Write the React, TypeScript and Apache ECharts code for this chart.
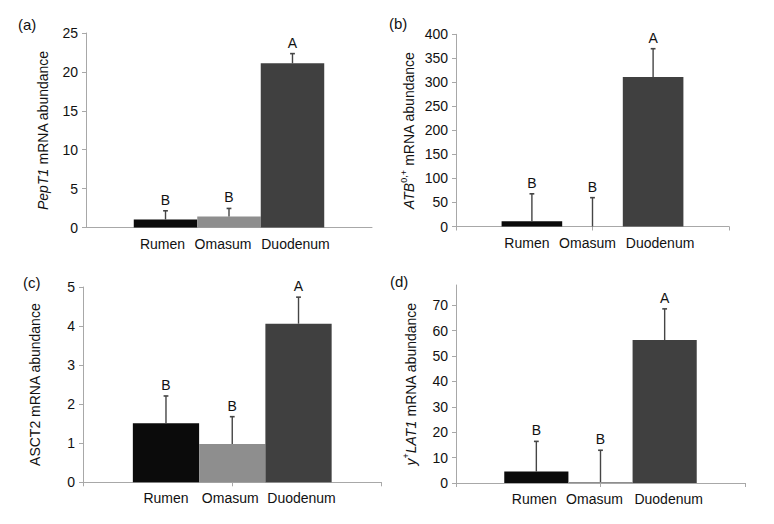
import React, { useEffect, useRef } from "react";
import * as echarts from "echarts";

const categories = ["Rumen", "Omasum", "Duodenum"];
const panelTags = ["(a)", "(b)", "(c)", "(d)"];

// (a) PepT1
const pept1Mean = [1.02, 1.4, 21.1];
const pept1Upper = [2.15, 2.45, 22.35];
const pept1Letters = ["B", "B", "A"];
// (b) ATB0,+
const atbMean = [11, 0, 311];
const atbUpper = [68, 60, 370];
const atbLetters = ["B", "B", "A"];
// (c) ASCT2
const asct2Mean = [1.51, 0.98, 4.06];
const asct2Upper = [2.21, 1.68, 4.74];
const asct2Letters = ["B", "B", "A"];
// (d) y+LAT1
const ylat1Mean = [4.5, 0.4, 56.3];
const ylat1Upper = [16.4, 12.9, 68.6];
const ylat1Letters = ["B", "B", "A"];

const pept1Ticks = [0, 5, 10, 15, 20, 25];
const atbTicks = [0, 50, 100, 150, 200, 250, 300, 350, 400];
const asct2Ticks = [0, 1, 2, 3, 4, 5];
const ylat1Ticks = [0, 10, 20, 30, 40, 50, 60, 70];

const FONT = "'Liberation Sans', Arial, Helvetica, sans-serif";
const BAR_COLORS = ["#0b0b0b", "#8e8e8e", "#404040"];
const AXIS_COLOR = "#a8a8a8";
const TEXT_COLOR = "#111111";
const GAP = 0.334;

const panels = [
  {
    mean: pept1Mean, upper: pept1Upper, letters: pept1Letters, ticks: pept1Ticks,
    max: 25, interval: 5,
    name: "{i|PepT1} mRNA abundance",
    grid: { left: 86, top: 33, width: 286, height: 194.5 },
    nameGap: 33, tag: { x: 18, y: 24 }, midTicks: false,
    labelOffsets: [-3, -6, 3],
  },
  {
    mean: atbMean, upper: atbUpper, letters: atbLetters, ticks: atbTicks,
    max: 400, interval: 50,
    name: "{i|ATB}{s|0,+} mRNA abundance",
    grid: { left: 456, top: 34.3, width: 273, height: 192.2 },
    nameGap: 37, tag: { x: 389, y: 23 }, midTicks: true,
    labelOffsets: [-5, -5, 7],
  },
  {
    mean: asct2Mean, upper: asct2Upper, letters: asct2Letters, ticks: asct2Ticks,
    max: 5, interval: 1,
    name: "ASCT2 mRNA abundance",
    grid: { left: 83, top: 287, width: 298.5, height: 195.3 },
    nameGap: 38, tag: { x: 23, y: 282 }, midTicks: true,
    labelOffsets: [0, -2, 3],
  },
  {
    mean: ylat1Mean, upper: ylat1Upper, letters: ylat1Letters, ticks: ylat1Ticks,
    max: 78, interval: 10,
    name: "{i|y}{s|+}{i|LAT1} mRNA abundance",
    grid: { left: 456, top: 285, width: 289, height: 198 },
    nameGap: 35, tag: { x: 390, y: 281 }, midTicks: true,
    labelOffsets: [-2, -6, 4],
  },
];

function buildOption() {
  const grid: any[] = [];
  const xAxis: any[] = [];
  const yAxis: any[] = [];
  const series: any[] = [];
  const graphic: any[] = [];

  panels.forEach((p, i) => {
    grid.push({ ...p.grid, containLabel: false });
    // hidden axis hosting the clustered bars (one cluster)
    xAxis.push({
      type: "category",
      gridIndex: i,
      data: ["g"],
      show: false,
    });
    // visible axis line with ticks
    xAxis.push({
      type: "category",
      gridIndex: i,
      position: "bottom",
      data: ["", ""],
      axisLine: { show: true, lineStyle: { color: AXIS_COLOR, width: 1 } },
      axisTick: { show: p.midTicks, length: 4, lineStyle: { color: AXIS_COLOR } },
      axisLabel: { show: false },
      splitLine: { show: false },
    });
    yAxis.push({
      type: "value",
      gridIndex: i,
      min: 0,
      max: p.max,
      interval: p.interval,
      axisLine: { show: true, lineStyle: { color: AXIS_COLOR, width: 1 } },
      axisTick: { show: true, length: 4, lineStyle: { color: AXIS_COLOR }, customValues: p.ticks },
      axisLabel: {
        color: TEXT_COLOR, fontSize: 14, fontFamily: FONT, margin: 8,
        customValues: p.ticks,
      },
      splitLine: { show: false },
      name: p.name,
      nameLocation: "middle",
      nameRotate: 90,
      nameGap: p.nameGap,
      nameTextStyle: {
        color: TEXT_COLOR, fontSize: 14, fontFamily: FONT, lineHeight: 20,
        rich: {
          i: { fontStyle: "italic", fontSize: 14, fontFamily: FONT, color: TEXT_COLOR, lineHeight: 20 },
          s: { fontSize: 9, fontFamily: FONT, color: TEXT_COLOR, verticalAlign: "top", lineHeight: 12 },
        },
      },
    });

    categories.forEach((c, k) => {
      series.push({
        type: "bar",
        name: c,
        xAxisIndex: 2 * i,
        yAxisIndex: i,
        data: [p.mean[k]],
        barGap: "0%",
        barCategoryGap: GAP * 100 + "%",
        itemStyle: { color: BAR_COLORS[k] },
        label: {
          show: true,
          position: "bottom",
          distance: 9,
          formatter: c,
          fontSize: 14,
          fontFamily: FONT,
          color: TEXT_COLOR,
          offset: [p.labelOffsets[k], 0],
        },
        emphasis: { disabled: true },
      });
    });

    series.push({
      type: "custom",
      xAxisIndex: 2 * i,
      yAxisIndex: i,
      clip: false,
      z: 5,
      data: categories.map((_, k) => [0, p.mean[k], p.upper[k], k]),
      encode: { x: 0, y: [1, 2] },
      renderItem: (params: any, api: any) => {
        const k = api.value(3);
        const base = api.coord([0, api.value(1)]);
        const top = api.coord([0, api.value(2)]);
        const band = api.size([1, 0])[0];
        const barW = (band * (1 - GAP)) / 3;
        const x = base[0] + (k - 1) * barW;
        const stroke = "#454545";
        return {
          type: "group",
          children: [
            { type: "line", shape: { x1: x, y1: base[1], x2: x, y2: top[1] }, style: { stroke, lineWidth: 1.4 } },
            { type: "line", shape: { x1: x - 2.4, y1: top[1], x2: x + 2.4, y2: top[1] }, style: { stroke, lineWidth: 1.6 } },
            {
              type: "text",
              x,
              y: top[1] - 4,
              style: {
                text: p.letters[k],
                align: "center",
                verticalAlign: "bottom",
                fontSize: 14,
                fontFamily: FONT,
                fill: TEXT_COLOR,
              },
            },
          ],
        };
      },
    });

    graphic.push({
      type: "text",
      x: p.tag.x,
      y: p.tag.y,
      style: {
        text: panelTags[i], fontSize: 15, fontFamily: FONT, fill: TEXT_COLOR,
        align: "left", verticalAlign: "middle",
      },
    });
  });

  return {
    animation: false,
    backgroundColor: "#ffffff",
    textStyle: { fontFamily: FONT },
    grid,
    xAxis,
    yAxis,
    series,
    graphic,
  };
}

export default function App() {
  const ref = useRef<HTMLDivElement>(null);
  useEffect(() => {
    if (!ref.current) return;
    const chart = echarts.init(ref.current, undefined, { renderer: "svg" });
    chart.setOption(buildOption());
    return () => chart.dispose();
  }, []);
  return (
    <div
      ref={ref}
      style={{ position: "fixed", left: 0, top: 0, width: 774, height: 524, background: "#fff" }}
    />
  );
}
